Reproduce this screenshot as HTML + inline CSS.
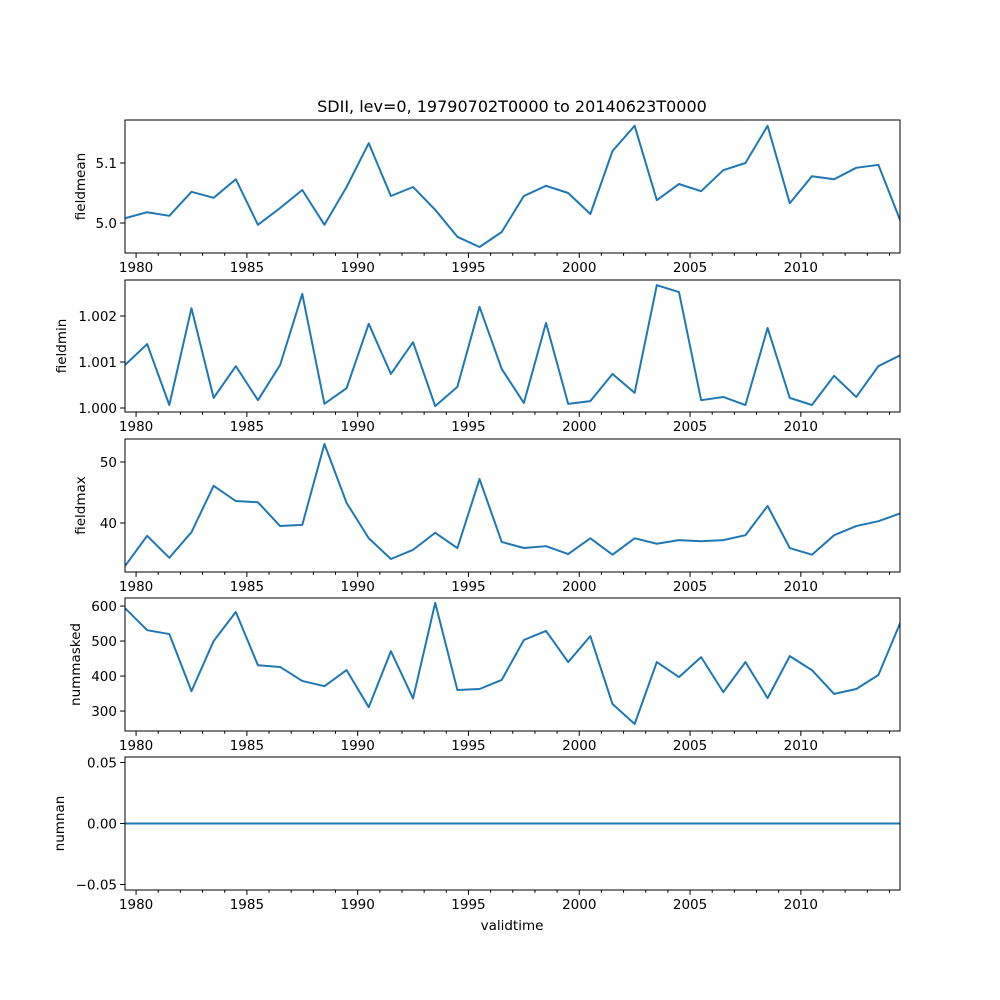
<!DOCTYPE html>
<html><head><meta charset="utf-8"><style>
html,body{margin:0;padding:0;background:#fff;}
svg{display:block;font-family:"DejaVu Sans","Liberation Sans",sans-serif;}
</style></head><body>
<svg id="fig" width="1000" height="1000" viewBox="0 0 1000 1000">
<rect width="1000" height="1000" fill="#fff"/>
<text x="512" y="112" font-size="16" text-anchor="middle">SDII, lev=0, 19790702T0000 to 20140623T0000</text>
<text x="512" y="930" font-size="13.5" text-anchor="middle">validtime</text>
</svg>
<script>
const fieldmean=[5.008,5.018,5.012,5.052,5.042,5.073,4.997,5.025,5.055,4.997,5.06,5.133,5.045,5.06,5.022,4.977,4.96,4.985,5.045,5.062,5.05,5.015,5.12,5.162,5.038,5.065,5.053,5.088,5.1,5.162,5.033,5.078,5.073,5.092,5.097,5.003];
const fieldmin=[1.000935,1.00139,1.000065,1.00217,1.00022,1.00091,1.00017,1.000935,1.00248,1.00009,1.00043,1.00183,1.00074,1.00143,1.00004,1.00046,1.0022,1.00085,1.00011,1.00185,1.00009,1.00015,1.00074,1.00033,1.00267,1.00252,1.00017,1.00024,1.000065,1.00174,1.00022,1.000065,1.0007,1.00024,1.00091,1.00115];
const fieldmax=[32.95,37.9,34.3,38.5,46.1,43.6,43.4,39.5,39.7,52.95,43.3,37.5,34.1,35.6,38.4,35.9,47.2,36.9,35.9,36.2,34.9,37.5,34.8,37.5,36.6,37.2,37.0,37.2,38.0,42.8,35.9,34.8,38.0,39.5,40.3,41.6];
const nummasked=[594,531,520,357,500,583,431,426,386,371,417,311,471,336,609,360,363,389,503,529,440,514,320,263,440,397,454,354,440,337,457,417,349,363,403,554];
const numnan=[0,0,0,0,0,0,0,0,0,0,0,0,0,0,0,0,0,0,0,0,0,0,0,0,0,0,0,0,0,0,0,0,0,0,0,0];
const startYear=1979.5;
const xTickYears=[1980,1985,1990,1995,2000,2005,2010];
const xTickLabels=["1980","1985","1990","1995","2000","2005","2010"];
const panels=[
 {name:"fieldmean",data:fieldmean,top:120,bot:253,ymin:4.95,ymax:5.1717,ticks:[5.0,5.1],labels:["5.0","5.1"]},
 {name:"fieldmin",data:fieldmin,top:280,bot:412,ymin:0.999913,ymax:1.002783,ticks:[1.000,1.001,1.002],labels:["1.000","1.001","1.002"]},
 {name:"fieldmax",data:fieldmax,top:439,bot:572,ymin:31.97,ymax:53.77,ticks:[40,50],labels:["40","50"]},
 {name:"nummasked",data:nummasked,top:598,bot:731,ymin:243,ymax:623,ticks:[300,400,500,600],labels:["300","400","500","600"]},
 {name:"numnan",data:numnan,top:757,bot:890,ymin:-0.0545,ymax:0.0545,ticks:[-0.05,0,0.05],labels:["\u22120.05","0.00","0.05"]}
];
const L=125,R=900,X0=1979.5,X1=2014.475;
const NS="http://www.w3.org/2000/svg";
const svg=document.getElementById('fig');
function xs(y){return L+(y-X0)/(X1-X0)*(R-L);}
function mk(tag,attrs,parent){const e=document.createElementNS(NS,tag);for(const k in attrs)e.setAttribute(k,attrs[k]);(parent||svg).appendChild(e);return e;}
panels.forEach(p=>{
 const g=mk('g',{});
 
 
 const ys=v=>p.bot-(v-p.ymin)/(p.ymax-p.ymin)*(p.bot-p.top);
 let d='';
 p.data.forEach((v,i)=>{d+=(i?'L':'M')+xs(startYear+i).toFixed(2)+' '+ys(v).toFixed(2);});
 const cp=mk('clipPath',{id:'c'+p.name},g);
 mk('rect',{x:L,y:p.top,width:R-L,height:p.bot-p.top},cp);
 const line=mk('path',{d:d,fill:'none',stroke:'#1f77b4','stroke-width':2,'stroke-linejoin':'round','clip-path':'url(#c'+p.name+')'},g);
 
 
 const frame=mk('rect',{x:L,y:p.top,width:R-L,height:p.bot-p.top,fill:'none',stroke:'#000','stroke-width':1},g);
 
 
 for(let y=1980;y<=2014;y++){
  const x=xs(y);const major=xTickYears.indexOf(y)>=0;
  mk('line',{x1:x,x2:x,y1:p.bot,y2:p.bot+(major?4.9:2.8),stroke:'#000','stroke-width':1},g);
 }
 xTickYears.forEach((y,i)=>{
  const t=mk('text',{x:xs(y),y:p.bot+19,'font-size':13.5,'text-anchor':'middle'},g);
  t.textContent=xTickLabels[i];
  
  
 });
 p.ticks.forEach((v,i)=>{
  const y=ys(v);
  mk('line',{x1:L-4.9,x2:L,y1:y,y2:y,stroke:'#000','stroke-width':1},g);
  const t=mk('text',{x:L-8,y:y+5,'font-size':13.5,'text-anchor':'end'},g);
  t.textContent=p.labels[i];
  
  
 });
 const cy=(p.top+p.bot)/2;
 const lx=p.name==='fieldmin'?66:(p.name==='numnan'?64:(p.name==='nummasked'?80:85));
 const yl=mk('text',{x:lx,y:cy,'font-size':13.5,'text-anchor':'middle',transform:'rotate(-90 '+lx+' '+cy+')'},g);
 yl.textContent=p.name;
 
 
});
</script>
</body></html>
